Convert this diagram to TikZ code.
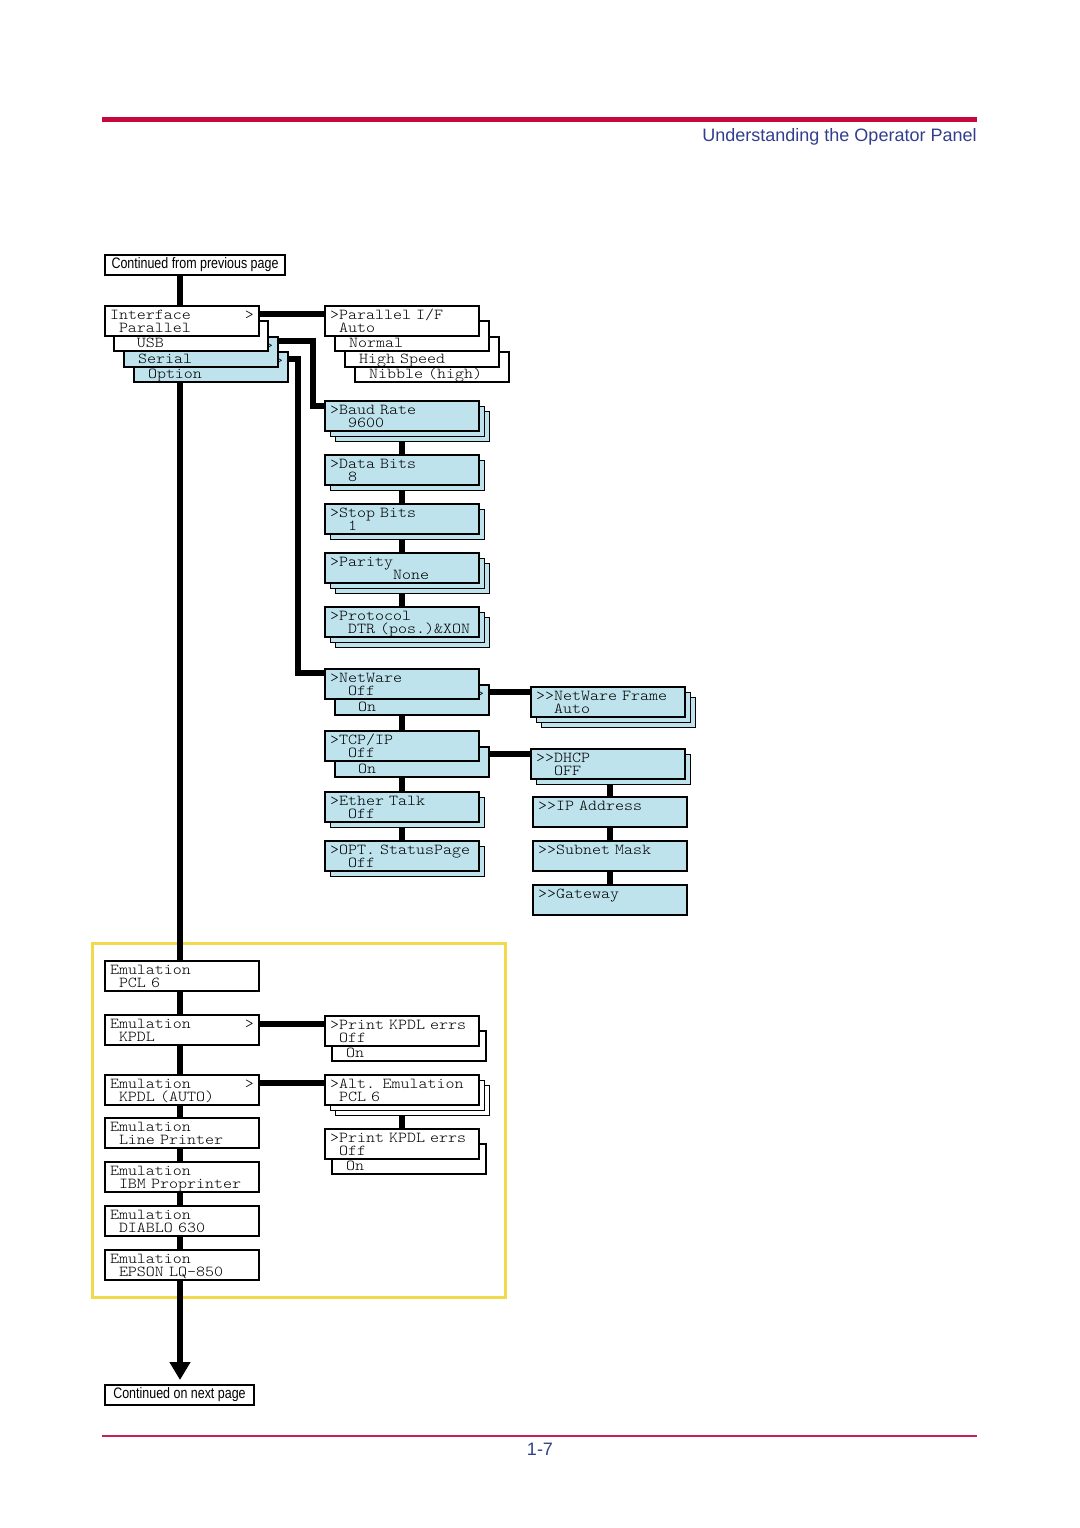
\documentclass[tikz,border=0pt]{standalone}
\usepackage{fontspec}
\newfontfamily\narrowsf[FakeStretch=0.82]{Liberation Sans}
\newfontfamily\headsf{Liberation Sans}
\newfontfamily\lcdtt[FakeStretch=1.1278]{lmmonolt10-regular.otf}
\usetikzlibrary{shadows,arrows.meta}

\pgfdeclarelayer{bg}
\pgfsetlayers{bg,main}

\definecolor{lcdblue}{RGB}{190,227,237}
\definecolor{hdrred}{RGB}{200,8,60}
\definecolor{ftred}{RGB}{200,30,90}
\definecolor{hdrblue}{RGB}{50,62,140}
\definecolor{frameyel}{RGB}{242,216,75}

\newcommand{\lcdfont}{\lcdtt\fontsize{7.6pt}{6.75pt}\selectfont\lineskiplimit=-20pt\relax}
\newcommand{\sk}[1]{\hspace*{#1\dimexpr 4.5pt\relax}}
\newcommand{\two}[2]{\rule{0pt}{6.6pt}#1\\#2\rule[-1.5pt]{0pt}{1.5pt}}

\begin{document}
\begin{tikzpicture}[x=0.5pt,y=-0.5pt,
	lcd/.style={draw,line width=1pt,fill=white,anchor=north west,text width=72pt,inner xsep=2.5pt,inner ysep=0pt,minimum height=15pt,align=left,font=\lcdfont},
	lcdb/.style={lcd,fill=lcdblue},
	sh1/.style={copy shadow={shadow xshift=2.5pt,shadow yshift=-2.5pt,line width=.5pt}},
	sh2/.style={copy shadow={shadow xshift=5pt,shadow yshift=-5pt,line width=.5pt},sh1},
	note/.style={draw,line width=1pt,fill=white,anchor=north west,minimum height=10pt,inner sep=0pt,font=\narrowsf\fontsize{7.6pt}{9pt}\selectfont},
	link/.style={line width=3.2pt},
	trunk/.style={line width=3.2pt}]
	\useasboundingbox (0,0) rectangle (1080,1528);

	% header and footer
	\draw[hdrred,line width=2.5pt] (102,119) -- (977,119);
	\node[anchor=base east,text=hdrblue,inner sep=0pt,font=\headsf\fontsize{9pt}{11pt}\selectfont] (title) at (977,141) {Understanding the Operator Panel};
	\draw[ftred,line width=1pt] (102,1435.5) -- (977,1435.5);
	\node[anchor=base,text=hdrblue,inner sep=0pt,font=\headsf\fontsize{9pt}{11pt}\selectfont] (pgno) at (540,1455) {1-7};

	\coordinate (tk) at (180,0);
	\node[note,minimum width=90pt] (cprev) at (104,254) {Continued from previous page};
	\node[note,minimum width=74.5pt] (cnext) at (104,1384) {Continued on next page};

	% interface
	\node[lcdb] (option) at (133,351) {\two{\sk{15}>}{\sk{1}Option}};
	\node[lcdb] (serial) at (123,336) {\two{\sk{15}>}{\sk{1}Serial}};
	\node[lcd] (usb) at (113,320) {\two{}{\sk{2}USB}};
	\node[lcd] (iface) at (104,305) {\two{Interface\sk{6}>}{\sk{1}Parallel}};

	\node[lcd] (nibble) at (354,351) {\two{}{\sk{1}Nibble (high)}};
	\node[lcd] (hispeed) at (344,336) {\two{}{\sk{1}High Speed}};
	\node[lcd] (normal) at (334,320) {\two{}{\sk{1}Normal}};
	\node[lcd] (pari) at (324,305) {\two{>Parallel I/F}{\sk{1}Auto}};

	% serial
	\node[lcdb,sh2] (baud) at (324,400) {\two{>Baud Rate}{\sk{2}9600}};
	\node[lcdb,sh1] (data) at (324,454) {\two{>Data Bits}{\sk{2}8}};
	\node[lcdb,sh1] (stop) at (324,503) {\two{>Stop Bits}{\sk{2}1}};
	\node[lcdb,sh2] (parity) at (324,552) {\two{>Parity}{\sk{7}None}};
	\node[lcdb,sh2] (proto) at (324,606) {\two{>Protocol}{\sk{2}DTR (pos.)\&XON}};

	% option
	\node[lcdb] (neton) at (334,684) {\two{\sk{15}>}{\sk{2}On}};
	\node[lcdb] (netw) at (324,668) {\two{>NetWare}{\sk{2}Off}};
	\node[lcdb] (tcpon) at (334,746) {\two{}{\sk{2}On}};
	\node[lcdb] (tcp) at (324,730) {\two{>TCP/IP}{\sk{2}Off}};
	\node[lcdb,sh1] (ether) at (324,791) {\two{>Ether Talk}{\sk{2}Off}};
	\node[lcdb,sh1] (optst) at (324,840) {\two{>OPT. StatusPage}{\sk{2}Off}};

	\node[lcdb,sh2] (frame) at (530,686) {\two{>>NetWare Frame}{\sk{2}Auto}};
	\node[lcdb,sh1] (dhcp) at (530,748) {\two{>>DHCP}{\sk{2}OFF}};
	\node[lcdb] (ipad) at (532,796) {\two{>>IP Address}{}};
	\node[lcdb] (subnet) at (532,840) {\two{>>Subnet Mask}{}};
	\node[lcdb] (gw) at (532,884) {\two{>>Gateway}{}};

	% emulation
	\node[lcd] (pcl) at (104,960) {\two{Emulation}{\sk{1}PCL 6}};
	\node[lcd] (kpdl) at (104,1014) {\two{Emulation\sk{6}>}{\sk{1}KPDL}};
	\node[lcd] (kpdla) at (104,1074) {\two{Emulation\sk{6}>}{\sk{1}KPDL (AUTO)}};
	\node[lcd] (lp) at (104,1117) {\two{Emulation}{\sk{1}Line Printer}};
	\node[lcd] (ibm) at (104,1161) {\two{Emulation}{\sk{1}IBM Proprinter}};
	\node[lcd] (diablo) at (104,1205) {\two{Emulation}{\sk{1}DIABLO 630}};
	\node[lcd] (epson) at (104,1249) {\two{Emulation}{\sk{1}EPSON LQ-850}};

	\node[lcd] (erron1) at (331,1030) {\two{}{\sk{1}On}};
	\node[lcd] (errs1) at (324,1015) {\two{>Print KPDL errs}{\sk{1}Off}};
	\node[lcd,sh2] (alt) at (324,1074) {\two{>Alt. Emulation}{\sk{1}PCL 6}};
	\node[lcd] (erron2) at (331,1143) {\two{}{\sk{1}On}};
	\node[lcd] (errs2) at (324,1128) {\two{>Print KPDL errs}{\sk{1}Off}};

	\begin{pgfonlayer}{bg}
		\draw[frameyel,line width=1.5pt] (92,943) rectangle (505,1297);
		\draw[trunk,-{Triangle[width=10pt,length=9pt]},shorten >=2pt] (tk |- cprev.south) -- (tk |- cnext.north);
		\draw[link] ([yshift=-4.5pt]iface.north east) coordinate (a) -- (a -| pari.west);
		\draw[link] ([yshift=-2.5pt]serial.north east) -| ([xshift=-5.5pt,yshift=-3pt]baud.north west) -- ([yshift=-3pt]baud.north west);
		\draw[link] ([yshift=-4pt]option.north east) -| ([xshift=-13pt,yshift=-2.5pt]netw.north west) -- ([yshift=-2.5pt]netw.north west);
		\draw[link] (baud) -- (data) -- (stop) -- (parity) -- (proto);
		\draw[link] (neton.south -| netw.south) -- (tcp);
		\draw[link] (tcpon.south -| tcp.south) -- (ether) -- (optst);
		\draw[link] ([yshift=-4pt]neton.north east) coordinate (b) -- (b -| frame.west);
		\draw[link] ([yshift=-4pt]tcpon.north east) coordinate (c) -- (c -| dhcp.west);
		\draw[link] (ipad.north |- dhcp.south) -- (ipad) -- (subnet) -- (gw);
		\draw[link] ([yshift=-5pt]kpdl.north east) coordinate (d) -- (d -| errs1.west);
		\draw[link] ([yshift=-4.5pt]kpdla.north east) coordinate (e) -- (e -| alt.west);
		\draw[link] (alt) -- (errs2);
	\end{pgfonlayer}
\end{tikzpicture}
\end{document}
